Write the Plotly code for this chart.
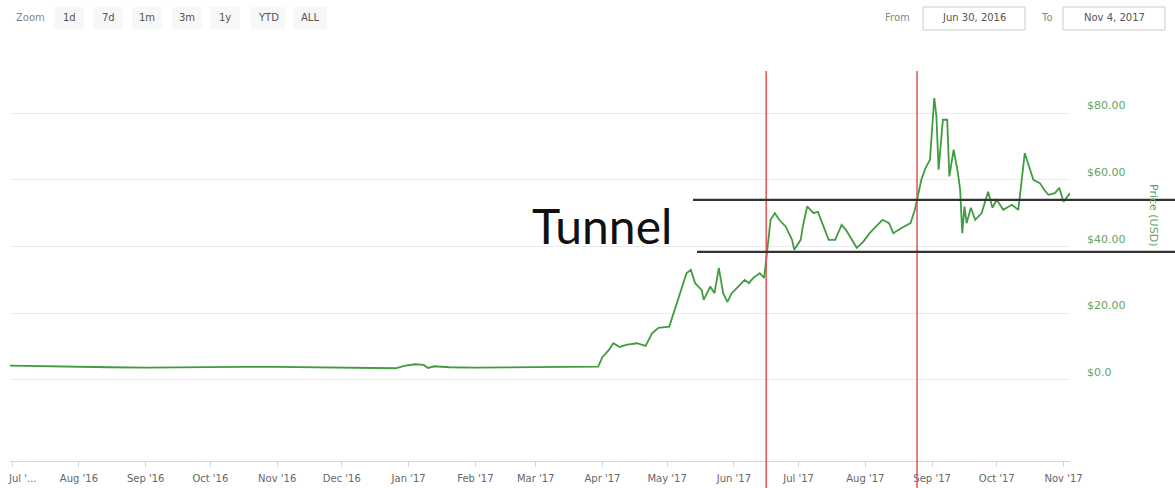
import plotly.graph_objects as go

# price history (USD)
dates = [
    "2016-06-30", "2016-07-07", "2016-07-14", "2016-07-21", "2016-08-01", "2016-08-15",
    "2016-09-01", "2016-09-15", "2016-10-01", "2016-10-15", "2016-11-01", "2016-11-15",
    "2016-12-01", "2016-12-10", "2016-12-20", "2016-12-26", "2016-12-30", "2017-01-04",
    "2017-01-08", "2017-01-10", "2017-01-13", "2017-01-20", "2017-02-01", "2017-02-15",
    "2017-03-01", "2017-03-15", "2017-03-30",
    "2017-04-01", "2017-04-04", "2017-04-06", "2017-04-09", "2017-04-12", "2017-04-17",
    "2017-04-21", "2017-04-24", "2017-04-27", "2017-05-02", "2017-05-04", "2017-05-07",
    "2017-05-10", "2017-05-12", "2017-05-14", "2017-05-17", "2017-05-18", "2017-05-21",
    "2017-05-23", "2017-05-25", "2017-05-27", "2017-05-29", "2017-05-31", "2017-06-03",
    "2017-06-06", "2017-06-08", "2017-06-10", "2017-06-13", "2017-06-15", "2017-06-16",
    "2017-06-18", "2017-06-20", "2017-06-22", "2017-06-25", "2017-06-28", "2017-06-29",
    "2017-07-02", "2017-07-03", "2017-07-05", "2017-07-08", "2017-07-10", "2017-07-12",
    "2017-07-15", "2017-07-18", "2017-07-21", "2017-07-23", "2017-07-26", "2017-07-28",
    "2017-07-31", "2017-08-03", "2017-08-06", "2017-08-09", "2017-08-12", "2017-08-14",
    "2017-08-18", "2017-08-22", "2017-08-24", "2017-08-25", "2017-08-27", "2017-08-29",
    "2017-08-31", "2017-09-02", "2017-09-03", "2017-09-04", "2017-09-06", "2017-09-08",
    "2017-09-09", "2017-09-11", "2017-09-13", "2017-09-14", "2017-09-15", "2017-09-16",
    "2017-09-17", "2017-09-19", "2017-09-21", "2017-09-24", "2017-09-27", "2017-09-29",
    "2017-10-01", "2017-10-04", "2017-10-08", "2017-10-11", "2017-10-12", "2017-10-14",
    "2017-10-16", "2017-10-18", "2017-10-21", "2017-10-23", "2017-10-25", "2017-10-28",
    "2017-10-30", "2017-11-01", "2017-11-04",
]
prices = [
    4.3, 4.2, 4.1, 4.0, 3.9, 3.8,
    3.7, 3.8, 3.8, 3.9, 3.9, 3.8,
    3.7, 3.5, 3.4, 3.5, 4.2, 4.7,
    4.5, 3.6, 4.1, 3.8, 3.7, 3.7,
    3.8, 3.9, 4.0,
    6.9, 9.0, 11.0, 9.9, 10.5, 11.0,
    10.2, 14.0, 15.6, 16.0, 20.0, 26.0,
    32.0, 33.0, 29.0, 27.0, 24.0, 28.0,
    26.0, 33.6, 26.0, 23.4, 26.0, 28.0,
    30.0, 29.0, 30.6, 32.0, 30.6, 36.0,
    48.0, 50.0, 48.0, 46.0, 42.0, 39.0,
    42.0, 46.0, 52.0, 50.0, 50.4, 47.0,
    42.0, 42.0, 46.5, 45.0, 42.0, 39.6,
    41.4, 44.0, 46.0, 48.0, 47.0, 44.0,
    45.6, 47.0, 51.0, 54.0, 60.0, 63.6,
    66.0, 84.5, 79.0, 63.0, 78.0, 78.0,
    61.0, 69.0, 62.0, 57.0, 44.0, 52.0,
    47.0, 51.6, 48.0, 50.0, 56.4, 51.6,
    54.0, 51.0, 52.5, 51.0, 57.0, 68.0,
    64.0, 60.0, 59.0, 57.0, 55.5, 56.0,
    57.6, 53.4, 56.0,
]

month_ticks = [
    "2016-07-01", "2016-08-01", "2016-09-01", "2016-10-01", "2016-11-01", "2016-12-01",
    "2017-01-01", "2017-02-01", "2017-03-01", "2017-04-01", "2017-05-01", "2017-06-01",
    "2017-07-01", "2017-08-01", "2017-09-01", "2017-10-01", "2017-11-01",
]
month_labels = [
    "Jul '...", "Aug '16", "Sep '16", "Oct '16", "Nov '16", "Dec '16",
    "Jan '17", "Feb '17", "Mar '17", "Apr '17", "May '17", "Jun '17",
    "Jul '17", "Aug '17", "Sep '17", "Oct '17", "Nov '17",
]
price_ticks = [0, 20, 40, 60, 80]
price_labels = ["$0.0", "$20.00", "$40.00", "$60.00", "$80.00"]

zoom_buttons = ["1d", "7d", "1m", "3m", "1y", "YTD", "ALL"]
range_from = "Jun 30, 2016"
range_to = "Nov 4, 2017"

# annotations drawn over the chart
breakout_dates = ["2017-06-16", "2017-08-25"]
tunnel_levels = [54.0, 38.4]

W, H = 1175, 488
L, R, T, B = 10, 105, 46, 27
PW, PH = W - L - R, H - T - B


def px(x):
    return (x - L) / PW


def py(y):
    return (H - B - y) / PH


GREEN = "#3f9c3f"
LABEL_GREEN = "#5fa35f"
GREY = "#666666"
UI_FONT = "DejaVu Sans"


def label(text, x, y, size=10, color="#555555", **kw):
    return dict(text=text, xref="paper", yref="paper", x=px(x), y=py(y),
                xanchor="center", yanchor="middle", showarrow=False,
                font=dict(family=UI_FONT, size=size, color=color), **kw)


fig = go.Figure()
fig.add_trace(go.Scatter(
    x=dates, y=prices, mode="lines",
    line=dict(color=GREEN, width=1.8),
    hoverinfo="x+y", showlegend=False,
))

shapes = []
# breakout lines
for d in breakout_dates:
    shapes.append(dict(type="line", xref="x", yref="paper", x0=d, x1=d,
                       y0=py(71), y1=py(490), line=dict(color="#e05555", width=1.5)))
# tunnel lines
for lvl, xs in zip(tunnel_levels, [693, 697]):
    shapes.append(dict(type="line", xref="paper", yref="y", x0=px(xs), x1=px(1180),
                       y0=lvl, y1=lvl, line=dict(color="#333333", width=2.2)))

annotations = [
    dict(text="Tunnel", xref="paper", yref="paper", x=px(602), y=py(226),
         xanchor="center", yanchor="middle", showarrow=False,
         font=dict(family="Lato", size=48, color="#111111")),
    label("Price (USD)", 1154, 215, size=11, color=LABEL_GREEN, textangle=90),
    label("Zoom", 30, 18, color="#888888"),
    # first month label sits against the left edge, so it is drawn shifted right
    dict(text=month_labels[0], xref="paper", yref="paper", x=px(6), y=py(478),
         xanchor="left", yanchor="middle", showarrow=False,
         font=dict(family=UI_FONT, size=10, color=GREY)),
]

# range selector buttons
btn_x = [69, 108, 147, 187, 225, 268, 310]
for text, cx in zip(zoom_buttons, btn_x):
    w = 30 if len(text) < 3 else 34
    shapes.append(dict(type="rect", xref="paper", yref="paper",
                       x0=px(cx - w / 2), x1=px(cx + w / 2), y0=py(29), y1=py(7),
                       fillcolor="#f7f7f7", line=dict(width=0), layer="below"))
    annotations.append(label(text, cx, 18))

# from / to inputs
annotations.append(label("From", 897, 18, color="#888888"))
annotations.append(label("To", 1047, 18, color="#888888"))
for text, x0, x1 in [(range_from, 923, 1025), (range_to, 1063, 1165)]:
    shapes.append(dict(type="rect", xref="paper", yref="paper",
                       x0=px(x0), x1=px(x1), y0=py(30), y1=py(7),
                       fillcolor="white", line=dict(color="#cccccc", width=1)))
    annotations.append(label(text, (x0 + x1) / 2, 18))

fig.update_layout(
    width=W, height=H, autosize=False,
    margin=dict(l=L, r=R, t=T, b=B, autoexpand=False),
    paper_bgcolor="white", plot_bgcolor="white",
    shapes=shapes, annotations=annotations,
    xaxis=dict(
        type="date", range=["2016-06-30", "2017-11-04"], automargin=False,
        tickvals=month_ticks, ticktext=[""] + month_labels[1:],
        ticklabeloverflow="allow", ticklabelstandoff=3,
        showgrid=False, zeroline=False,
        showline=True, linecolor="#ccd6eb", linewidth=1,
        ticks="outside", ticklen=5, tickcolor="#ccd6eb",
        tickfont=dict(family=UI_FONT, size=10, color=GREY),
    ),
    yaxis=dict(
        side="right", range=[-24.3, 100.1], automargin=False,
        tickvals=price_ticks, ticktext=price_labels,
        ticklabelposition="outside top", ticklabelstandoff=16,
        showgrid=True, gridcolor="#ececec", gridwidth=1,
        zeroline=False, showline=False, ticks="",
        tickfont=dict(family=UI_FONT, size=11, color=LABEL_GREEN),
    ),
    hovermode="x",
)

# drop the browser's default page margin so the figure sits at the window origin
fig.write_html("out.html", config={"displayModeBar": False},
               post_script="document.body.style.margin = '0';")
